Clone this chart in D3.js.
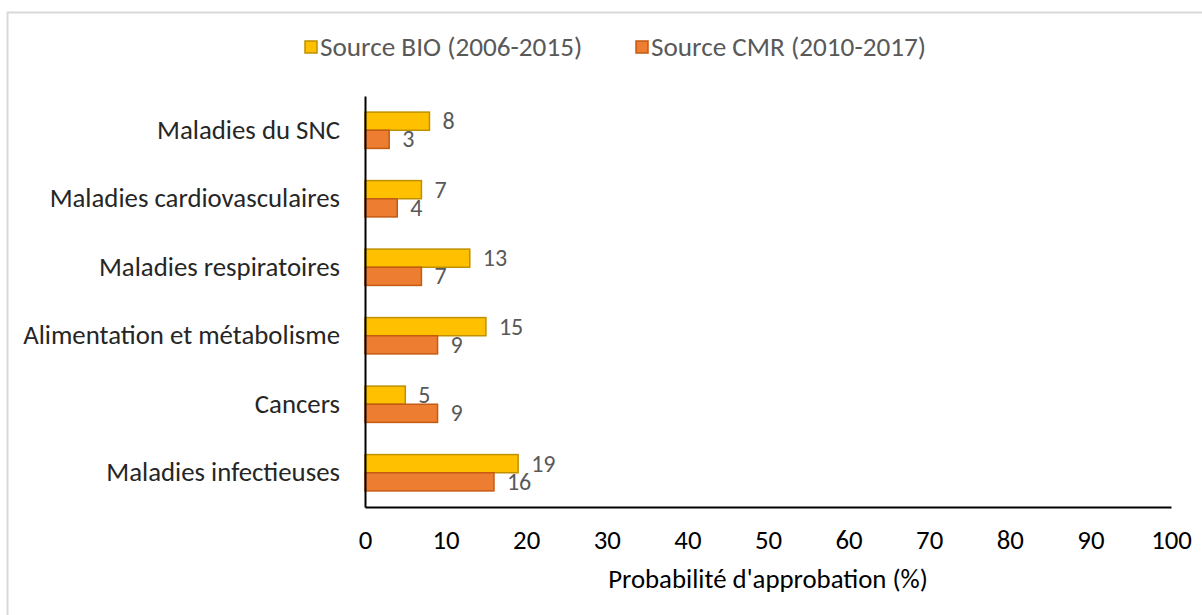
<!DOCTYPE html>
<html>
<head>
<meta charset="utf-8">
<script src="https://cdn.jsdelivr.net/npm/d3@7"></script>
<style>
  html, body { margin: 0; padding: 0; background: #fff; }
  svg { display: block; font-family: Carlito, "Open Sans", sans-serif; }
</style>
</head>
<body>
<svg id="vis" width="1202" height="615"></svg>
<script>
// categories, top to bottom
var categories = ['Maladies du SNC', 'Maladies cardiovasculaires', 'Maladies respiratoires',
  'Alimentation et métabolisme', 'Cancers', 'Maladies infectieuses'];
var seriesNames = ['Source BIO (2006-2015)', 'Source CMR (2010-2017)'];
var bioValues = [8, 7, 13, 15, 5, 19];
var cmrValues = [3, 4, 7, 9, 9, 16];
var xTicks = [0, 10, 20, 30, 40, 50, 60, 70, 80, 90, 100];
var xTitle = "Probabilité d'approbation (%)";

var fills = ['#FFC000', '#ED7D31'],
  strokes = ['#BF9000', '#C55A11'];

var svg = d3.select('#vis');
var m = {left: 365, right: 1171, top: 96, bottom: 507};
var ff = 'Carlito, "Open Sans", sans-serif';

// chart border
svg.append('rect')
  .attr('x', 7.5).attr('y', 12.5)
  .attr('width', 1210).attr('height', 620)
  .attr('fill', '#fff')
  .attr('stroke', '#d9d9d9').attr('stroke-width', 2);

var x = d3.scaleLinear().domain([0, 100]).range([m.left, m.right]);
var y = d3.scaleBand().domain(categories).range([m.top, m.bottom]).paddingInner(0.47).paddingOuter(0.235);
var ys = d3.scaleBand().domain([0, 1]).range([0, y.bandwidth()]);

var rows = categories.map(function(c, i){
  return {cat: c, vals: [bioValues[i], cmrValues[i]]};
});

var g = svg.selectAll('g.row').data(rows).enter().append('g')
  .attr('class', 'row')
  .attr('transform', function(d){ return 'translate(0,' + y(d.cat) + ')'; });

g.selectAll('rect').data(function(d){ return d.vals; }).enter().append('rect')
  .attr('x', x(0))
  .attr('y', function(d, i){ return ys(i); })
  .attr('width', function(d){ return x(d) - x(0); })
  .attr('height', ys.bandwidth())
  .attr('fill', function(d, i){ return fills[i]; })
  .attr('stroke', function(d, i){ return strokes[i]; })
  .attr('stroke-width', 1.5);

g.selectAll('text.val').data(function(d){ return d.vals; }).enter().append('text')
  .attr('class', 'val')
  .attr('x', function(d){ return x(d) + 13; })
  .attr('y', function(d, i){ return ys(i) + ys.bandwidth() / 2; })
  .attr('dy', '0.34em')
  .attr('font-size', 24)
  .attr('fill', '#595959')
  .text(function(d){ return d; });

// y axis (category labels)
var yAxis = svg.append('g')
  .attr('transform', 'translate(' + m.left + ',0)')
  .call(d3.axisLeft(y).tickSize(0).tickPadding(25));
yAxis.select('.domain').attr('stroke', '#000').attr('stroke-width', 2);
yAxis.selectAll('text').attr('font-size', 26.8).attr('fill', '#262626')
  .attr('font-family', ff);

// x axis
var xAxis = svg.append('g')
  .attr('transform', 'translate(0,' + m.bottom + ')')
  .call(d3.axisBottom(x).tickValues(xTicks).tickSize(0).tickPadding(23));
xAxis.select('.domain').attr('stroke', '#000').attr('stroke-width', 2);
xAxis.selectAll('text').attr('font-size', 26.8).attr('fill', '#000')
  .attr('font-family', ff);

svg.append('text')
  .attr('x', (m.left + m.right) / 2).attr('y', 588)
  .attr('text-anchor', 'middle')
  .attr('font-size', 26.8).attr('fill', '#000')
  .text(xTitle);

// legend
var legX = [305, 636];
var leg = svg.selectAll('g.leg').data(seriesNames).enter().append('g')
  .attr('class', 'leg')
  .attr('transform', function(d, i){ return 'translate(' + legX[i] + ',47)'; });
leg.append('rect')
  .attr('x', 0).attr('y', -6).attr('width', 12).attr('height', 12)
  .attr('fill', function(d, i){ return fills[i]; })
  .attr('stroke', function(d, i){ return strokes[i]; })
  .attr('stroke-width', 1.5);
leg.append('text')
  .attr('x', 15).attr('dy', '0.34em')
  .attr('font-size', 27.2).attr('fill', '#595959')
  .text(function(d){ return d; });
</script>
</body>
</html>
